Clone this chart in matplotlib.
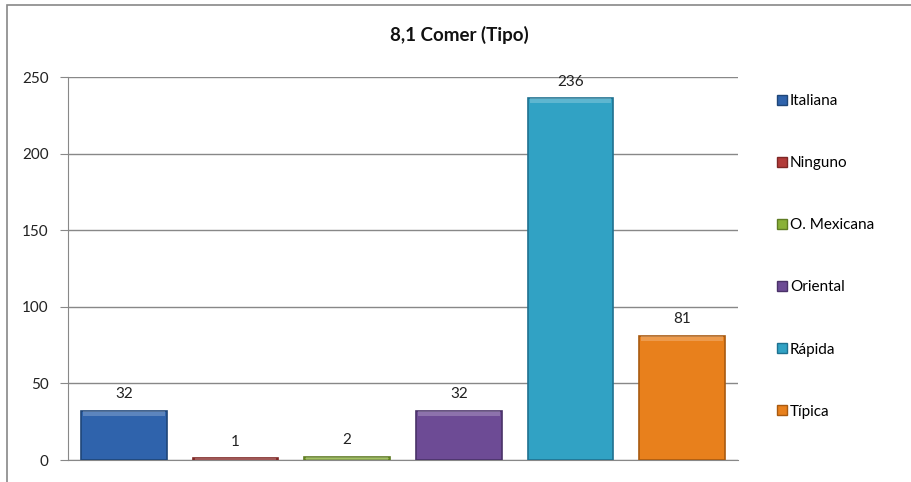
import numpy as np
import matplotlib.pyplot as plt
from matplotlib.patches import Rectangle
from matplotlib.lines import Line2D

categories = ["Italiana", "Ninguno", "O. Mexicana", "Oriental", "Rápida", "Típica"]
values = [32, 1, 2, 32, 236, 81]
colors = ["#2f63ac", "#b23b39", "#8ab138", "#6d4b95", "#31a2c4", "#e8801c"]
edges = ["#1f4678", "#7e2725", "#5f7c24", "#4a3268", "#1f7190", "#a85a10"]

plt.rcParams['font.family'] = ['Lato', 'DejaVu Sans']

fig = plt.figure(figsize=(9.11, 4.82), dpi=100)
W, H = 911, 482
ax = fig.add_axes([68 / W, 1 - 460 / H, 670 / W, 383 / H])

x = np.arange(len(categories))
ax.bar(x, values, width=0.77, color=colors, edgecolor=edges, linewidth=1.2, zorder=3)
# lighter top band for the bevel look
for xi, v in zip(x, values):
    band = min(v, 250 * 0.012)
    ax.bar(xi, band, bottom=v - band, width=0.73, color="white", alpha=0.22, linewidth=0, zorder=4)

for xi, v in zip(x, values):
    ax.annotate(str(v), (xi, v), xytext=(0, 7), textcoords="offset points",
                ha="center", va="bottom", fontsize=11, color="#222222")

ax.set_xlim(-0.5, len(categories) - 0.5)
ax.set_ylim(0, 250)
ax.set_yticks(np.arange(0, 251, 50))
ax.set_xticks([])
ax.tick_params(axis="y", length=6, color="#888888", labelsize=11, labelcolor="#222222", pad=8)
ax.grid(axis="y", color="#888888", linewidth=1, zorder=0)
for s in ["top", "right"]:
    ax.spines[s].set_visible(False)
ax.spines["left"].set_color("#888888")
ax.spines["bottom"].set_color("#888888")

handles = [Line2D([], [], marker="s", linestyle="", markersize=7, markerfacecolor=c,
                  markeredgecolor=e) for c, e in zip(colors, edges)]
fig.legend(handles, categories, loc="upper left", bbox_to_anchor=(770 / W, 1 - 88 / H),
           frameon=False, fontsize=11, labelspacing=3.15, handletextpad=0.1,
           handlelength=0.8, borderaxespad=0)

fig.text(459 / W, 1 - 35 / H, "8,1 Comer (Tipo)", ha="center", va="center",
         fontsize=13.5, fontweight="bold", color="#111111")

fig.patches.append(Rectangle((7 / W, -0.02), 1.02, 1 - 5 / H + 0.02, transform=fig.transFigure,
                             fill=False, edgecolor="#888888", linewidth=1.2))

fig.savefig("out.png", dpi=100)
